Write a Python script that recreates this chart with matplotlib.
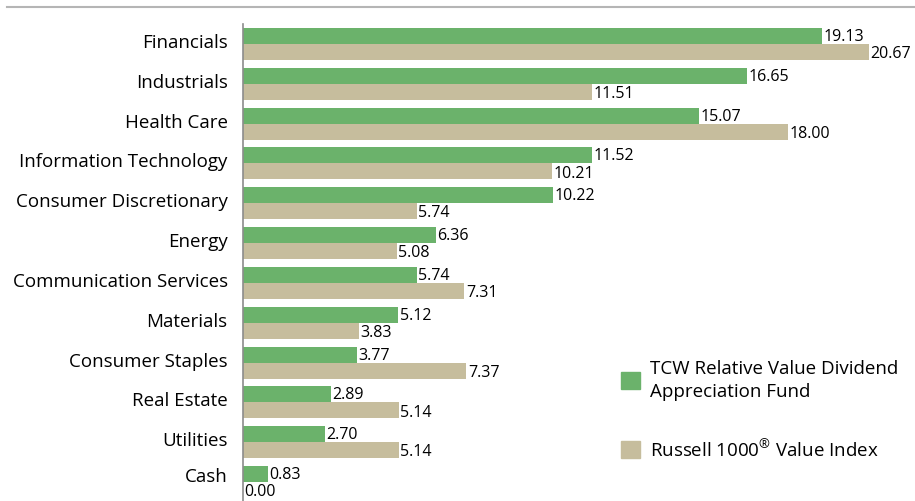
import numpy as np
import matplotlib.pyplot as plt
from matplotlib.lines import Line2D
from matplotlib.patches import Patch

# sector weights (%)
sectors = [
    "Financials", "Industrials", "Health Care", "Information Technology",
    "Consumer Discretionary", "Energy", "Communication Services", "Materials",
    "Consumer Staples", "Real Estate", "Utilities", "Cash",
]
fund = [19.13, 16.65, 15.07, 11.52, 10.22, 6.36, 5.74, 5.12, 3.77, 2.89, 2.70, 0.83]
index = [20.67, 11.51, 18.00, 10.21, 5.74, 5.08, 7.31, 3.83, 7.37, 5.14, 5.14, 0.00]
series_names = [
    "TCW Relative Value Dividend\nAppreciation Fund",
    "Russell 1000$^{®}$ Value Index",
]

GREEN = "#6bb26b"
TAN = "#c6bd9d"

plt.rcParams["font.family"] = ["Open Sans", "DejaVu Sans"]
plt.rcParams["mathtext.fontset"] = "custom"
plt.rcParams["mathtext.rm"] = "Open Sans"

W, H = 915, 502
fig = plt.figure(figsize=(W / 100, H / 100), dpi=100)
ax = fig.add_axes([243 / W, 0, 1 - 243 / W, (H - 25) / H])

y = np.arange(len(sectors))
bh = 0.4
ax.barh(y - bh / 2, fund, height=bh, color=GREEN)
ax.barh(y + bh / 2, index, height=bh, color=TAN)

for yi, v in zip(y, fund):
    ax.text(v + 0.05, yi - bh / 2, f"{v:.2f}", va="center", ha="left", fontsize=11.5)
for yi, v in zip(y, index):
    ax.text(v + 0.05, yi + bh / 2 + 0.03, f"{v:.2f}", va="center", ha="left", fontsize=11.5)

ax.set_xlim(0, (W - 243) / 30.29)
ax.set_ylim(11.475, -0.5)
label_pos = y - 0.1
label_pos[-1] = y[-1] - 0.2
ax.set_yticks(label_pos)
ax.set_yticklabels(sectors, fontsize=13.5)
ax.set_xticks([])
ax.tick_params(axis="y", length=0, pad=11)
for s in ["top", "right", "bottom"]:
    ax.spines[s].set_visible(False)
ax.spines["left"].set_color("#8c8c8c")
ax.spines["left"].set_linewidth(1.2)

# thin rule at the top
fig.add_artist(Line2D([7 / W, 1], [1 - 8 / H, 1 - 8 / H], color="#b5b5b5", lw=1.5))

handles = [Patch(color=GREEN), Patch(color=TAN)]
leg = fig.legend(handles, series_names, loc="upper left",
                 bbox_to_anchor=(604 / W, 1 - 343 / H),
                 frameon=False, fontsize=13.5, handlelength=1.0, handleheight=1.0,
                 handletextpad=0.55, labelspacing=2.0)
for t in leg.get_texts():
    t.set_linespacing(1.4)

fig.savefig("out.png", dpi=100)
